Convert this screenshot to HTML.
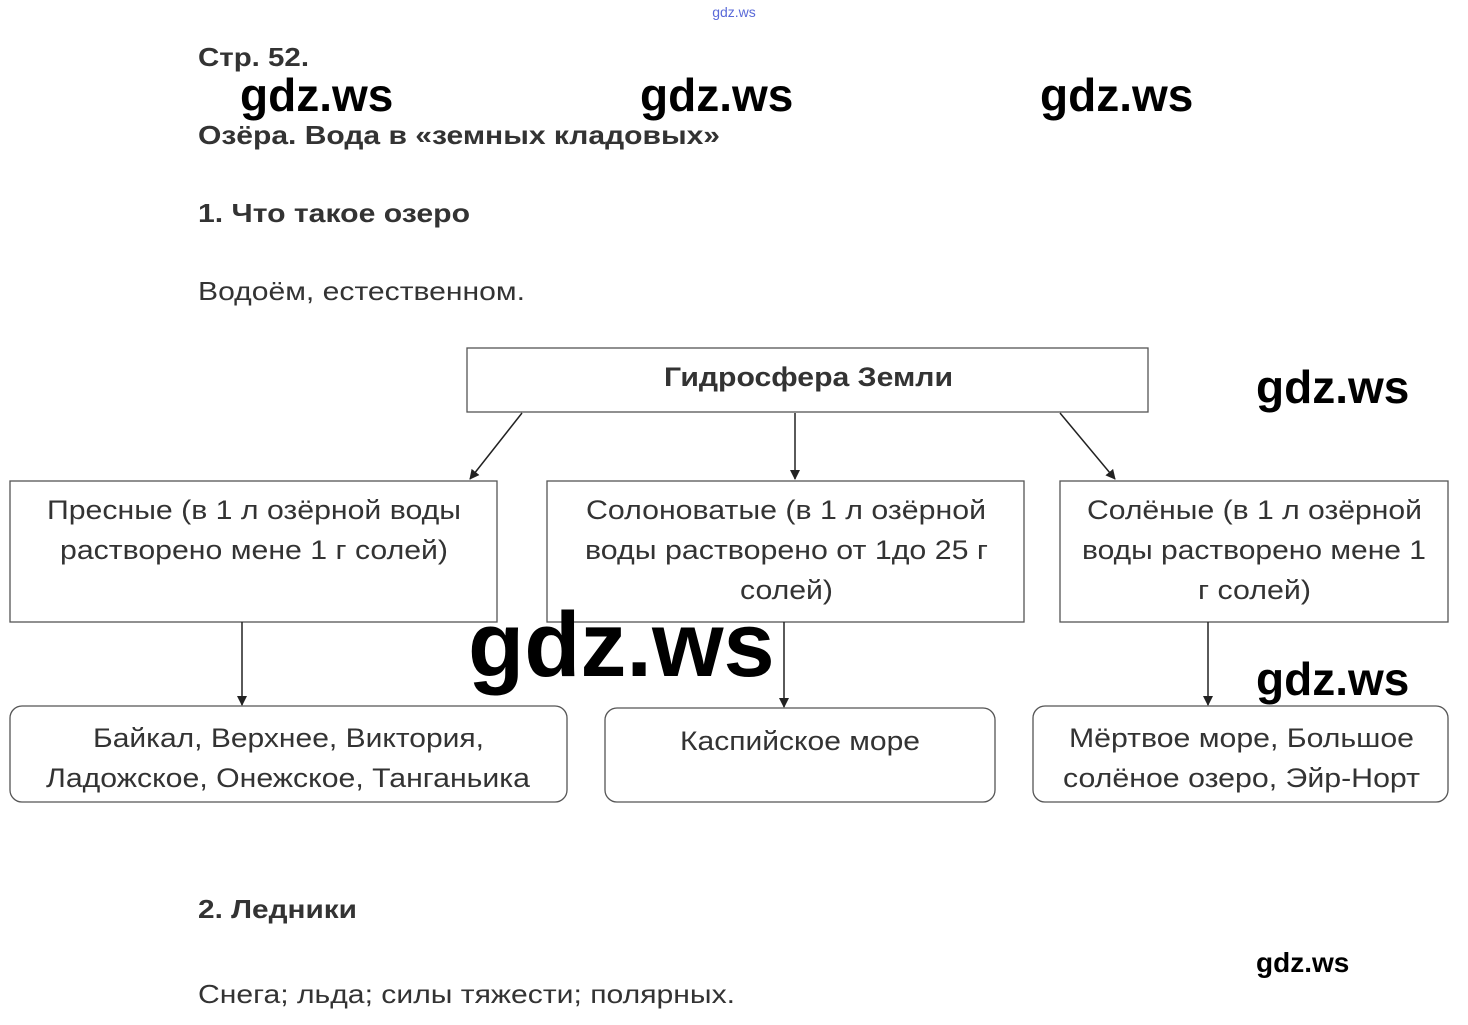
<!DOCTYPE html>
<html><head><meta charset="utf-8"><style>
html,body{margin:0;padding:0;background:#fff;}
svg{display:block;}
</style></head><body>
<svg width="1468" height="1025" viewBox="0 0 1468 1025" xmlns="http://www.w3.org/2000/svg" font-family="Liberation Sans, DejaVu Sans, sans-serif">
<defs><marker id="a" markerWidth="10" markerHeight="10" refX="9" refY="5" orient="auto" markerUnits="userSpaceOnUse"><path d="M0,0 L10,5 L0,10 z" fill="#222"/></marker></defs>
<text x="734" y="17" font-size="14" fill="#5a6ad8" text-anchor="middle">gdz.ws</text>
<g fill="#333" font-size="26" lengthAdjust="spacingAndGlyphs">
<text x="198" y="66" font-weight="bold" textLength="111" lengthAdjust="spacingAndGlyphs">Стр. 52.</text>
<text x="198" y="144" font-weight="bold" textLength="522" lengthAdjust="spacingAndGlyphs">Озёра. Вода в «земных кладовых»</text>
<text x="198" y="222" font-weight="bold" textLength="272" lengthAdjust="spacingAndGlyphs">1. Что такое озеро</text>
<text x="198" y="300" textLength="327" lengthAdjust="spacingAndGlyphs">Водоём, естественном.</text>
<text x="198" y="918" font-weight="bold" textLength="159" lengthAdjust="spacingAndGlyphs">2. Ледники</text>
<text x="198" y="1003" textLength="537" lengthAdjust="spacingAndGlyphs">Снега; льда; силы тяжести; полярных.</text>
</g>
<g fill="none" stroke="#555" stroke-width="1.3">
<rect x="467" y="348" width="681" height="64"/>
<rect x="10" y="481" width="487" height="141"/>
<rect x="547" y="481" width="477" height="141"/>
<rect x="1060" y="481" width="388" height="141"/>
<rect x="10" y="706" width="557" height="96" rx="12"/>
<rect x="605" y="708" width="390" height="94" rx="12"/>
<rect x="1033" y="706" width="415" height="96" rx="12"/>
</g>
<g stroke="#222" stroke-width="1.5" marker-end="url(#a)">
<line x1="522" y1="413" x2="470" y2="479"/>
<line x1="795" y1="413" x2="795" y2="479"/>
<line x1="1060" y1="413" x2="1115" y2="479"/>
<line x1="242" y1="622" x2="242" y2="705"/>
<line x1="784" y1="622" x2="784" y2="707"/>
<line x1="1208" y1="622" x2="1208" y2="705"/>
</g>
<g fill="#333" font-size="27">
<text x="664" y="386" font-weight="bold" textLength="289" lengthAdjust="spacingAndGlyphs">Гидросфера Земли</text>
<text x="47" y="519" textLength="414" lengthAdjust="spacingAndGlyphs">Пресные (в 1 л озёрной воды</text>
<text x="60" y="559" textLength="388" lengthAdjust="spacingAndGlyphs">растворено мене 1 г солей)</text>
<text x="586" y="519" textLength="400" lengthAdjust="spacingAndGlyphs">Солоноватые (в 1 л озёрной</text>
<text x="585" y="559" textLength="403" lengthAdjust="spacingAndGlyphs">воды растворено от 1до 25 г</text>
<text x="740" y="599" textLength="93" lengthAdjust="spacingAndGlyphs">солей)</text>
<text x="1087" y="519" textLength="335" lengthAdjust="spacingAndGlyphs">Солёные (в 1 л озёрной</text>
<text x="1082" y="559" textLength="344" lengthAdjust="spacingAndGlyphs">воды растворено мене 1</text>
<text x="1198" y="599" textLength="113" lengthAdjust="spacingAndGlyphs">г солей)</text>
<text x="93" y="747" textLength="391" lengthAdjust="spacingAndGlyphs">Байкал, Верхнее, Виктория,</text>
<text x="46" y="787" textLength="484" lengthAdjust="spacingAndGlyphs">Ладожское, Онежское, Танганьика</text>
<text x="680" y="750" textLength="240" lengthAdjust="spacingAndGlyphs">Каспийское море</text>
<text x="1069" y="747" textLength="345" lengthAdjust="spacingAndGlyphs">Мёртвое море, Большое</text>
<text x="1063" y="787" textLength="357" lengthAdjust="spacingAndGlyphs">солёное озеро, Эйр-Норт</text>
</g>
<g fill="#000" font-weight="bold">
<text x="240" y="111" font-size="46">gdz.ws</text>
<text x="640" y="111" font-size="46">gdz.ws</text>
<text x="1040" y="111" font-size="46">gdz.ws</text>
<text x="1256" y="403" font-size="46">gdz.ws</text>
<text x="1256" y="695" font-size="46">gdz.ws</text>
<text x="468" y="676" font-size="92">gdz.ws</text>
<text x="1256" y="972" font-size="28">gdz.ws</text>
</g>
</svg>
</body></html>
